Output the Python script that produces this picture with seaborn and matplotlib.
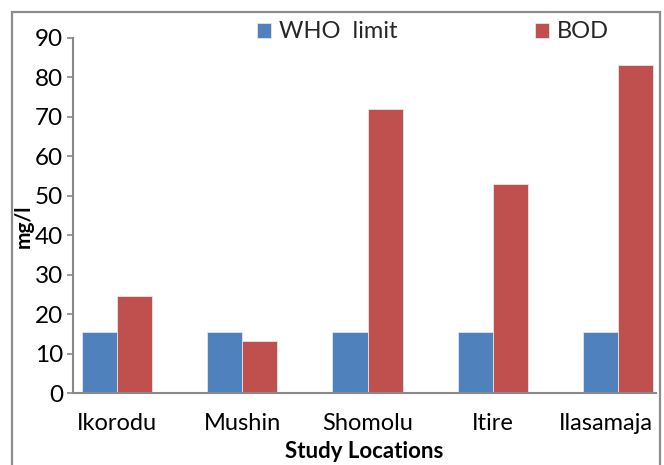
import matplotlib
matplotlib.use("Agg")
import matplotlib.pyplot as plt
import matplotlib.transforms as mtransforms
import seaborn as sns
import pandas as pd
from matplotlib.patches import Rectangle

locations = ["Ikorodu", "Mushin", "Shomolu", "Itire", "Ilasamaja"]
who_limit = [15.5, 15.5, 15.5, 15.5, 15.5]
bod = [24.7, 13.2, 72.0, 53.0, 83.1]
series_names = ["WHO  limit", "BOD"]
yticks = [0, 10, 20, 30, 40, 50, 60, 70, 80, 90]

df = pd.DataFrame({
    "Location": locations * 2,
    "Series": [series_names[0]] * len(locations) + [series_names[1]] * len(locations),
    "Value": who_limit + bod,
})

sns.set_theme(style="white")
plt.rcParams["font.family"] = ["Lato", "DejaVu Sans"]

W, H = 664, 465
fig = plt.figure(figsize=(W / 100, H / 100), dpi=100)
left, right, bottom, top = 73, 656, 393.3, 37.8
ax = fig.add_axes([left / W, 1 - bottom / H, (right - left) / W, (bottom - top) / H])

palette = {series_names[0]: "#4F81BD", series_names[1]: "#C0504D"}
sns.barplot(data=df, x="Location", y="Value", hue="Series", order=locations,
            hue_order=series_names, palette=palette, width=0.56, ax=ax,
            edgecolor="#E6E6E6", linewidth=0.6, saturation=1)

ax.set_ylim(0, 90)
ax.set_yticks(yticks)
ax.set_xlim(-0.351, 4.303)

gray = "#888888"
for s in ["top", "right"]:
    ax.spines[s].set_visible(False)
for s in ["left", "bottom"]:
    ax.spines[s].set_color(gray)
    ax.spines[s].set_linewidth(1.5)

ax.tick_params(axis="y", which="major", direction="out", length=4, width=1.2,
               color=gray, pad=3, labelsize=17.5, left=True, labelcolor="black")
ax.tick_params(axis="x", length=0, pad=14, labelsize=17, labelcolor="black")

# shift last x tick label left so it fits inside the frame (as in the reference)
lbls = ax.get_xticklabels()
lbls[-1].set_transform(lbls[-1].get_transform() +
                       mtransforms.ScaledTranslation(-12 / 100, 0, fig.dpi_scale_trans))

ax.set_xlabel("Study Locations", fontsize=16, fontweight="bold", labelpad=5,
              color="black")
ax.set_ylabel("")
fig.text(24 / W, 1 - 226 / H, "mg/l", rotation=90, ha="center", va="center",
         fontsize=15, fontweight="bold", color="black")

handles, labels = ax.get_legend_handles_labels()
ax.get_legend().remove()
fig.legend(handles, labels, loc="center left", bbox_to_anchor=(257 / W, 1 - 32 / H),
           ncol=2, frameon=False, fontsize=17, handlelength=0.6, handleheight=0.6,
           handletextpad=0.35, columnspacing=5.8, borderpad=0, borderaxespad=0)

fig.patches.append(Rectangle((12 / W, -0.05), (660 - 12) / W, 1.05 - 12 / H,
                             transform=fig.transFigure, fill=False,
                             edgecolor="#8C8C8C", linewidth=1.6))

fig.savefig("out.png", dpi=100)
